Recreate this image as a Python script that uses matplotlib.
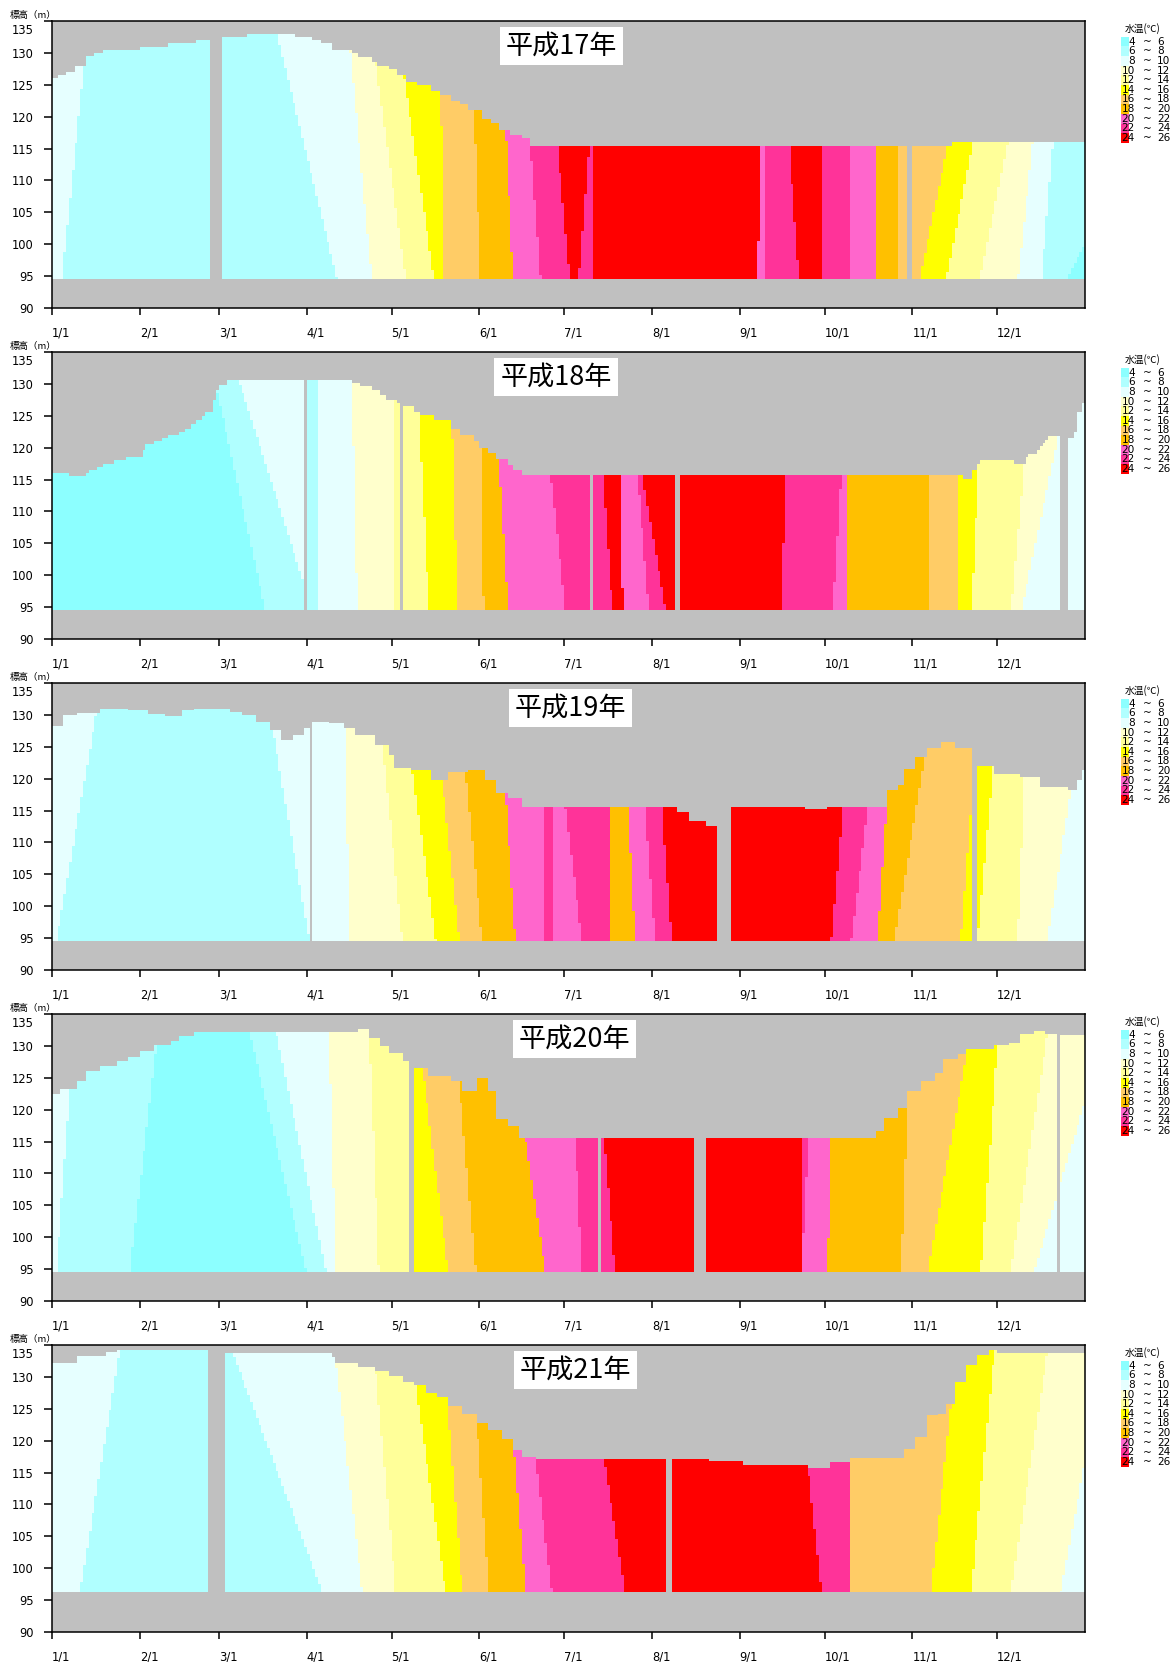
import numpy as np
import matplotlib
matplotlib.use('Agg')
import matplotlib.pyplot as plt
from matplotlib.colors import ListedColormap
from matplotlib.patches import Rectangle
from matplotlib.transforms import ScaledTranslation

# water temperature classes and their colours
t_lo = [4, 6, 8, 10, 12, 14, 16, 18, 20, 22, 24]
t_hi = [6, 8, 10, 12, 14, 16, 18, 20, 22, 24, 26]
t_colors = ['#8CFFFF', '#B0FFFF', '#E6FFFF', '#FFFFCC', '#FFFF99', '#FFFF00',
            '#FFCC66', '#FFC000', '#FF66CC', '#FF3399', '#FF0000']
grey = '#C0C0C0'

month_days = [0, 31, 59, 90, 120, 151, 181, 212, 243, 273, 304, 334]
month_labels = ['1/1', '2/1', '3/1', '4/1', '5/1', '6/1', '7/1', '8/1',
                '9/1', '10/1', '11/1', '12/1']
years = ['平成17年', '平成18年', '平成19年', '平成20年', '平成21年']

# water surface level (step: day of year -> elevation m)
h17_surf_days = [0, 2, 5, 8, 11.7, 15, 18, 31, 41, 51, 60, 69, 86, 92, 95, 99, 106, 108,
                 113, 115, 119, 122, 125, 129, 134, 137, 141, 144, 147, 152, 155, 158,
                 162, 166, 169, 318]
h17_surf_lvls = [126.0, 126.5, 127.0, 128.0, 129.5, 130.0, 130.4, 131.0, 131.5, 132.0,
                 132.5, 133.0, 132.5, 132.0, 131.6, 130.5, 130.0, 129.3, 128.6, 128.0,
                 127.5, 126.5, 125.4, 125.0, 124.0, 123.4, 122.5, 122.0, 121.0, 119.7,
                 119.0, 117.9, 117.2, 116.6, 115.4, 116.1]
h18_surf_days = [0, 5.8, 11.7, 13.4, 15.8, 17.6, 21.7, 26.4, 31.7, 33.5, 35.9, 38.8, 40.6,
                 44.7, 47.1, 48.8, 51.2, 53, 54.1, 57.1, 58.3, 59.4, 61.8, 106, 109, 113.1,
                 116.1, 118.4, 122, 124.3, 127.9, 130.2, 135.5, 140.8, 144.4, 149.1, 151.5,
                 153.8, 157.4, 160.9, 163.2, 165.6, 321.9, 324.8, 327.2, 328.4, 339.6,
                 343.7, 344.9, 347.8, 349, 350.2, 351.4, 352.5, 359.4, 360.8, 362, 363.7]
h18_surf_lvls = [116.0, 115.6, 116.0, 116.5, 117.0, 117.4, 118.1, 118.5, 119.6, 120.5,
                 121.0, 121.5, 122.0, 122.5, 123.0, 123.7, 124.3, 125.0, 125.6, 127.5,
                 129.0, 129.8, 130.6, 130.1, 129.6, 129.0, 128.3, 127.5, 127.0, 126.5,
                 125.6, 125.1, 124.4, 123.0, 122.0, 121.0, 120.0, 119.1, 118.3, 117.3,
                 116.5, 115.7, 115.1, 116.5, 117.4, 118.1, 117.4, 118.6, 119.0, 119.6,
                 120.2, 120.7, 121.2, 121.8, 121.5, 122.5, 125.6, 127.0]
h19_surf_days = [0, 4, 8.7, 16.9, 27.5, 34.5, 40.4, 46.3, 49.8, 62.7, 67.4, 72.1, 76.8,
                 81.5, 85, 88.6, 92.1, 98, 102.7, 107.4, 114.4, 119.1, 121.5, 127.3, 134.4,
                 140.3, 147.3, 153.2, 156.7, 161.4, 166.1, 221.3, 224.9, 230.7, 240.1, 266,
                 274.2, 295.3, 298.9, 301.5, 304.8, 309.4, 314.1, 318.8, 324.7, 327.1, 333,
                 342.3, 349.4, 358.8, 362.3, 364.5]
h19_surf_lvls = [128.2, 130.0, 130.3, 131.0, 130.7, 130.2, 129.8, 130.8, 131.0, 130.5,
                 130.0, 128.9, 127.6, 126.1, 126.8, 127.9, 128.9, 128.7, 127.9, 126.8,
                 125.3, 123.7, 121.6, 121.4, 119.8, 121.1, 121.4, 119.8, 117.7, 116.9,
                 115.6, 114.8, 113.3, 112.6, 115.6, 115.2, 115.6, 118.2, 119.0, 121.5,
                 123.4, 124.8, 125.8, 124.8, 122.7, 122.0, 120.8, 120.3, 118.7, 118.2,
                 119.8, 121.4]
h20_surf_days = [0, 2.8, 8.7, 12.2, 16.9, 22.8, 27.5, 31, 35.7, 41.6, 45.1, 49.8, 56.9,
                 108.5, 112.1, 115.6, 119.1, 123.8, 128.5, 133.2, 141.4, 145, 149.7, 154.4,
                 156.7, 161.4, 164.9, 290.6, 294.2, 298.9, 302.4, 307.1, 311.8, 315.3, 320,
                 323.5, 333, 337.6, 342.3, 347, 350.6, 356.4]
h20_surf_lvls = [122.4, 123.2, 124.5, 126.1, 126.8, 127.6, 128.2, 129.2, 130.2, 130.8,
                 131.5, 132.1, 132.2, 132.6, 131.3, 130.0, 128.9, 127.6, 126.6, 125.3,
                 124.5, 122.9, 125.0, 122.9, 118.5, 117.4, 115.6, 116.6, 118.7, 120.3,
                 122.9, 124.5, 125.8, 127.9, 128.7, 129.5, 130.2, 130.5, 131.8, 132.4,
                 131.8, 131.7]
h21_surf_days = [0, 8.7, 19.3, 22.8, 55, 60.8, 99.1, 100.3, 108.5, 114.4, 119.1, 123.8,
                 128.5, 132, 135.6, 140.3, 145, 149.7, 154.4, 159.1, 162.6, 166.1, 170.8,
                 232, 243.7, 267.2, 275.4, 282.4, 301.2, 304.7, 309.4, 313, 316.5, 318.8,
                 323.5, 327.1, 330.6, 334.1]
h21_surf_lvls = [132.2, 133.3, 133.9, 134.2, 134.2, 133.8, 133.1, 132.2, 131.5, 131.0,
                 130.2, 129.2, 128.7, 127.4, 126.8, 125.5, 124.2, 122.7, 121.6, 120.3,
                 118.5, 117.4, 117.2, 116.8, 116.2, 115.7, 116.7, 117.3, 118.7, 120.6,
                 124.0, 124.2, 125.8, 129.2, 131.8, 133.4, 134.2, 133.8]

# temperature bands: (class index, day where it starts at the surface, day at the bottom)
h17_bands = [(2, 0, 0), (1, 11.7, 3.5), (2, 79.5, 100.7), (3, 105.4, 113), (4, 114.3, 125),
             (5, 124.3, 135), (6, 137.3, 138.5), (7, 149, 151.5), (8, 160.3, 163),
             (9, 169.1, 172.6), (10, 178.6, 183), (9, 189.8, 186.2), (10, 191.5, 191.5),
             (8, 250, 249.3), (9, 252.3, 252.3), (10, 260.5, 264), (9, 271.7, 271.7),
             (8, 282.4, 282.4), (7, 291.2, 291.2), (6, 298.9, 298.9), (5, 316.5, 306.5),
             (4, 325.4, 316), (3, 337.8, 327.8), (2, 346.6, 341.3), (1, 353.7, 349.6),
             (0, 384, 358.4)]
h18_bands = [(0, 0, 0), (1, 58.3, 75.4), (2, 66, 92), (1, 90.1, 90.1), (2, 94.2, 94.2),
             (3, 106, 107.8), (4, 120.8, 120.8), (5, 129.6, 133.2), (6, 141.4, 143.2),
             (7, 151.5, 152.6), (8, 157.9, 161.1), (9, 176.2, 181.5), (10, 194.7, 198),
             (8, 201, 201.6), (9, 206.9, 211), (10, 208.6, 216.9), (9, 259.4, 257.6),
             (8, 278.8, 275.9), (7, 281.5, 281.5), (6, 309.7, 309.7), (5, 319.7, 319.7),
             (4, 327.5, 324.8), (3, 343.7, 339), (2, 355.5, 342.5)]
h19_bands = [(2, 0, 0), (1, 15.7, 1.6), (2, 78, 90.9), (3, 103.9, 105), (4, 116.8, 123.8),
             (5, 127.3, 135.6), (6, 137.9, 143.8), (7, 146.1, 152), (8, 160.2, 163.8),
             (9, 174.3, 174.3), (8, 176.7, 176.7), (9, 181.4, 187.3), (7, 196.7, 196.7),
             (8, 203.7, 206), (9, 209.6, 213.1), (10, 215.5, 219), (9, 279.4, 275.4),
             (8, 288.3, 282.4), (7, 294.9, 291.8), (6, 308.3, 297.7), (5, 325.9, 321.2),
             (4, 332.5, 327.1), (3, 343.5, 341.2), (2, 360, 351.7)]
h20_bands = [(2, 0, 0), (1, 6.3, 1.6), (0, 36.9, 27.5), (1, 69.8, 89.8), (2, 79.2, 96.8),
             (3, 98, 100.3), (4, 112.1, 115.6), (5, 127.8, 127.8), (6, 130.9, 140),
             (7, 143.8, 149.7), (8, 167.3, 174.3), (9, 184.9, 187.3), (10, 195, 199),
             (9, 264.8, 264.8), (8, 267.2, 264.8), (7, 275.4, 274.2), (6, 302.4, 300),
             (5, 323.5, 309.5), (4, 334.1, 328.2), (3, 351.7, 338.8), (2, 372, 347)]
h21_bands = [(2, 0, 0), (1, 24, 9.9), (2, 63.9, 95.6), (3, 100.3, 109.7), (4, 114.4, 121.5),
             (5, 128.5, 139.1), (6, 139.6, 145), (7, 150.1, 154.4), (8, 163.3, 167.3),
             (9, 170.8, 176.7), (10, 195, 202.5), (9, 267.2, 271.9), (6, 282.4, 282.4),
             (5, 317.7, 310.6), (4, 333, 324.7), (3, 351.7, 338.8), (2, 372, 356.4)]

# days with no observation (grey columns)
h17_gaps = [(56, 59.8), (301.6, 304.4)]
h18_gaps = [(89.2, 90.1), (123.1, 124.1), (190.3, 191.5), (219.6, 221.6), (355.5, 359.4)]
h19_gaps = [(90.5, 91.6), (235.4, 240.1), (325.4, 326.6)]
h20_gaps = [(126.2, 127.8), (192.6, 193.8), (226.7, 230.7), (354.5, 356)]
h21_gaps = [(55, 60.8), (216.6, 219)]

# lowest observed elevation
bottoms = [94.5, 94.5, 94.6, 94.6, 96.2]

panels = [
    (h17_surf_days, h17_surf_lvls, h17_bands, h17_gaps),
    (h18_surf_days, h18_surf_lvls, h18_bands, h18_gaps),
    (h19_surf_days, h19_surf_lvls, h19_bands, h19_gaps),
    (h20_surf_days, h20_surf_lvls, h20_bands, h20_gaps),
    (h21_surf_days, h21_surf_lvls, h21_bands, h21_gaps),
]
title_x = [0.493, 0.488, 0.502, 0.506, 0.507]

cjk = ['Noto Sans CJK JP', 'DejaVu Sans']
plt.rcParams['font.family'] = ['Liberation Sans Narrow', 'DejaVu Sans']


def surface_at(days, lvls, x):
    i = np.searchsorted(days, x, side='right') - 1
    return np.asarray(lvls)[np.clip(i, 0, len(lvls) - 1)]


def build_grid(sd, sl, bands, gaps, bottom):
    xc = np.arange(365) + 0.5
    ye = np.arange(90, 135.001, 0.1)
    yc = (ye[:-1] + ye[1:]) / 2
    g = np.full((yc.size, xc.size), 11.0)
    for cls, xt, xb in bands:
        yt = surface_at(sd, sl, min(xt, 364.9))
        f = np.clip((yc - bottom) / (yt - bottom), 0, 1)
        pos = xb + (xt - xb) * f
        g[xc[None, :] >= pos[:, None]] = cls
    surf = surface_at(sd, sl, xc)
    g[yc[:, None] > surf[None, :]] = 11
    g[yc < bottom, :] = 11
    for a, b in gaps:
        g[:, (xc > a) & (xc < b)] = 11
    return g


W, H = 1176, 1662
fig = plt.figure(figsize=(W / 100, H / 100), dpi=100)
cmap = ListedColormap(t_colors + [grey])
tops = [21, 352, 683, 1014, 1345]


def fx(x):
    return x / W


def fy(y):
    return 1 - y / H


for k, (sd, sl, bands, gaps) in enumerate(panels):
    T = tops[k]
    ax = fig.add_axes([fx(52), fy(T + 287), 1033 / W, 287 / H])
    ax.set_facecolor(grey)
    grid = build_grid(sd, sl, bands, gaps, bottoms[k])
    ax.imshow(grid, cmap=cmap, vmin=-0.5, vmax=11.5, origin='lower', aspect='auto',
              interpolation='nearest', extent=(0, 365, 90, 135))
    ax.set_xlim(0, 365)
    ax.set_ylim(90, 135)
    ax.set_xticks(month_days)
    ax.set_xticklabels(month_labels, ha='left')
    ax.set_yticks(range(90, 136, 5))
    ax.tick_params(axis='x', direction='out', length=5.3, width=1.1, pad=8, labelsize=8.3)
    ax.tick_params(axis='y', direction='out', length=5.5, width=1.1, pad=7.5, labelsize=8.3)
    for s in ax.spines.values():
        s.set_linewidth(1.1)
    # the 135 label sits a bit lower than its tick
    top_lab = ax.get_yticklabels()[-1]
    top_lab.set_transform(top_lab.get_transform() +
                          ScaledTranslation(0, -0.08, fig.dpi_scale_trans))

    ax.text(title_x[k], 0.913, years[k], transform=ax.transAxes, ha='center', va='center',
            fontsize=19.5, family=cjk,
            bbox=dict(boxstyle='square,pad=0.22', facecolor='white', edgecolor='none'))

    fig.text(fx(10), fy(T - 6), '標高（m）', ha='left', va='center', fontsize=6.8, family=cjk)

    # legend
    fig.text(fx(1143), fy(T + 8), '水温(℃)', ha='center', va='center', fontsize=7, family=cjk)
    for i in range(len(t_colors)):
        y0 = T + 15.7 + i * 9.66
        fig.add_artist(Rectangle((fx(1121), fy(y0 + 9.66)), 8 / W, 9.66 / H,
                                 transform=fig.transFigure, facecolor=t_colors[i],
                                 edgecolor='none'))
        yc = y0 + 4.83
        fig.text(fx(1135), fy(yc), str(t_lo[i]), ha='right', va='center', fontsize=7.6)
        fig.text(fx(1147), fy(yc), '~', ha='center', va='center', fontsize=7.6)
        fig.text(fx(1157), fy(yc), str(t_hi[i]), ha='left', va='center', fontsize=7.6)

fig.savefig('out.png', dpi=100)
